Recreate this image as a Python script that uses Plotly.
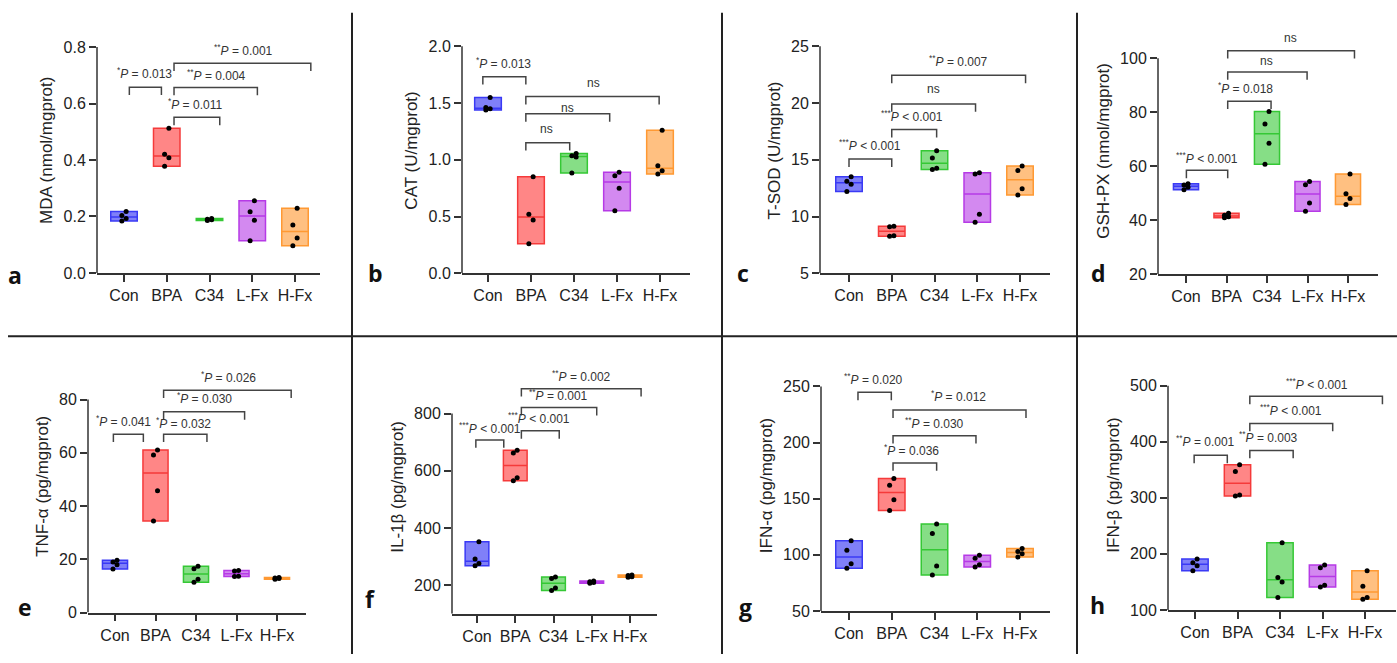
import numpy as np
import plotly.graph_objects as go

# ---------------- data ----------------
categories = ["Con", "BPA", "C34", "L-Fx", "H-Fx"]

mda = [[0.184, 0.193, 0.203, 0.218], [0.378, 0.408, 0.420, 0.512], [0.186, 0.188, 0.190, 0.193],
       [0.114, 0.187, 0.217, 0.256], [0.096, 0.124, 0.170, 0.229]]
cat_vals = [[1.44, 1.45, 1.46, 1.55], [0.26, 0.47, 0.52, 0.85], [0.884, 1.025, 1.035, 1.055],
            [0.55, 0.75, 0.86, 0.89], [0.875, 0.904, 0.948, 1.26]]
tsod = [[12.2, 12.85, 13.1, 13.5], [8.25, 8.3, 9.1, 9.15], [14.15, 14.25, 15.15, 15.8],
        [9.5, 10.2, 13.75, 13.85], [11.9, 12.45, 14.05, 14.45]]
gshpx = [[51.3, 52.2, 53.0, 53.5], [40.9, 41.3, 41.8, 42.6], [60.7, 68.5, 75.6, 80.3],
         [43.3, 46.4, 53.1, 54.3], [45.8, 48.0, 49.8, 57.1]]
tnfa = [[16.4, 18.0, 19.0, 19.6], [34.4, 45.7, 59.2, 61.0], [11.4, 12.5, 16.5, 17.4],
        [13.5, 13.6, 15.6, 15.8], [12.5, 12.8, 13.0, 13.2]]
il1b = [[268, 276, 292, 352], [565, 576, 662, 672], [182, 190, 224, 229],
        [207, 210, 212, 215], [228, 230, 234, 236]]
ifna = [[88, 92, 104, 112.6], [139.5, 149, 162, 168], [82, 90, 119, 127.5],
        [89, 91, 97, 99.5], [98, 101, 103, 105.5]]
ifnb = [[170, 179, 184, 191], [303, 305, 347, 359], [122, 150, 158, 220],
        [141, 144, 175, 180], [119, 122, 142, 170]]

y_titles = ["MDA (nmol/mgprot)", "CAT (U/mgprot)", "T-SOD (U/mgprot)", "GSH-PX (nmol/mgprot)",
            "TNF-α (pg/mgprot)", "IL-1β (pg/mgprot)", "IFN-α (pg/mgprot)", "IFN-β (pg/mgprot)"]
panel_letters = ["a", "b", "c", "d", "e", "f", "g", "h"]
y_ticks = [[0, 0.2, 0.4, 0.6, 0.8], [0, 0.5, 1.0, 1.5, 2.0], [5, 10, 15, 20, 25], [20, 40, 60, 80, 100],
           [0, 20, 40, 60, 80], [200, 400, 600, 800], [50, 100, 150, 200, 250], [100, 200, 300, 400, 500]]
y_fmt = ["{:.1f}", "{:.1f}", "{:g}", "{:g}", "{:g}", "{:g}", "{:g}", "{:g}"]
y_bottom = [0, 0, 5, 20, 0, 100, 50, 100]

# significance brackets: (start group pos, end group pos, bar level, stars, text, label x, label y)
brackets = [
    [(0.125, 0.875, 0.658, "*", "= 0.013", 0.49, 0.708), (1.17, 2.24, 0.551, "*", "= 0.011", 1.66, 0.600),
     (1.17, 3.12, 0.657, "**", "= 0.004", 2.17, 0.700), (1.17, 4.37, 0.743, "**", "= 0.001", 2.80, 0.790)],
    [(-0.12, 0.88, 1.733, "*", "= 0.013", 0.37, 1.855), (0.88, 1.90, 1.151, "", "ns", 1.36, 1.27),
     (0.88, 2.83, 1.406, "", "ns", 1.86, 1.455), (0.88, 3.98, 1.557, "", "ns", 2.45, 1.68)],
    [(0.0, 1.0, 15.06, "***", "< 0.001", 0.49, 16.3), (1.0, 2.05, 17.67, "***", "< 0.001", 1.47, 18.86),
     (1.0, 2.96, 19.93, "", "ns", 1.97, 21.2), (1.0, 4.13, 22.45, "**", "= 0.007", 2.56, 23.7)],
    [(0.01, 1.03, 58.5, "***", "< 0.001", 0.52, 63.1), (1.03, 2.10, 84.1, "*", "= 0.018", 1.46, 89.1),
     (1.03, 2.99, 94.9, "", "ns", 1.99, 99.1), (1.03, 4.16, 102.8, "", "ns", 2.59, 107.3)],
    [(-0.04, 0.70, 67.0, "*", "= 0.041", 0.21, 72.0), (1.20, 2.27, 67.0, "*", "= 0.032", 1.69, 71.3),
     (1.20, 3.20, 75.4, "*", "= 0.030", 2.20, 80.4), (1.20, 4.35, 83.5, "*", "= 0.026", 2.79, 88.4)],
    [(-0.03, 0.70, 708, "***", "< 0.001", 0.35, 749), (1.16, 2.15, 740, "***", "< 0.001", 1.61, 783),
     (1.16, 3.13, 821, "**", "= 0.001", 2.13, 864), (1.16, 4.29, 887, "**", "= 0.002", 2.74, 933)],
    [(0.21, 0.99, 244.7, "**", "= 0.020", 0.58, 256.7), (1.03, 2.05, 181.8, "*", "= 0.036", 1.46, 193.5),
     (1.03, 2.97, 206.1, "**", "= 0.030", 2.01, 217.2), (1.03, 4.14, 228.9, "*", "= 0.012", 2.55, 241.2)],
    [(-0.02, 0.76, 375.7, "**", "= 0.001", 0.25, 400.9), (1.29, 2.31, 384.5, "**", "= 0.003", 1.73, 409),
     (1.29, 3.24, 432.6, "***", "< 0.001", 2.26, 456), (1.29, 4.41, 481.2, "***", "< 0.001", 2.86, 502.9)],
]

all_data = [mda, cat_vals, tsod, gshpx, tnfa, il1b, ifna, ifnb]

# ---------------- layout geometry (pixels) ----------------
W, H = 1397, 663
# (axis left, axis right, first cat px, last cat px, bottom-tick px, top-tick px, row)
geom = [(97, 320, 124, 295, 276.7, 47.7, 0), (462, 690, 488, 660, 277, 47, 0),
        (820, 1050, 849, 1020, 277, 47, 0), (1158, 1378, 1186, 1348, 278, 59, 0),
        (88, 306, 115, 277, 621, 405, 1), (452, 657, 477, 630, 622.3, 419.3, 1),
        (821, 1050, 849, 1020, 619.3, 391.7, 1), (1168, 1396, 1195, 1365, 618.3, 391, 1)]
row_top_px = [28, 365]
letter_pos = [(15, 279), (375, 277), (743, 277), (1098, 277), (25, 615), (370, 607), (745, 615), (1097, 613)]

line_cols = ["#3a3af5", "#f53a3a", "#35c835", "#b63ae6", "#ff9933"]
fill_cols = ["rgba(60,60,245,0.65)", "rgba(255,60,60,0.62)", "rgba(53,200,53,0.6)",
             "rgba(182,58,230,0.6)", "rgba(255,153,51,0.62)"]
pt_offsets = [-0.05, 0.05, -0.05, 0.05]
AX = "#333333"
FONT = "Liberation Sans, Arial, sans-serif"

fig = go.Figure()
layout = dict(width=W, height=H, margin=dict(l=0, r=0, t=0, b=0),
              paper_bgcolor="white", plot_bgcolor="white", showlegend=False,
              font=dict(family=FONT, color="#222", size=12))
shapes = []
annotations = []

for n in range(8):
    sfx = "" if n == 0 else str(n + 1)
    L, R, c0, c4, pb, pt, row = geom[n]
    s = (c4 - c0) / 4
    xr = [-(c0 - L) / s, 4 + (R - c4) / s]
    ymin, ymaxtick = y_bottom[n], y_ticks[n][-1]
    k = (pb - pt) / (ymaxtick - ymin)
    top_px = row_top_px[row]
    ytop = ymin + (pb - top_px) / k

    layout["xaxis" + sfx] = dict(domain=[L / W, R / W], anchor="y" + sfx, range=xr,
                                 tickvals=list(range(5)), ticktext=categories,
                                 showline=True, linecolor=AX, linewidth=1.5,
                                 ticks="outside", ticklen=7, tickwidth=1.5, tickcolor=AX,
                                 showgrid=False, zeroline=False, fixedrange=True,
                                 tickfont=dict(size=16, color="#222"))
    layout["yaxis" + sfx] = dict(domain=[1 - pb / H, 1 - top_px / H], anchor="x" + sfx,
                                 range=[ymin, ytop], tickvals=y_ticks[n],
                                 ticktext=[y_fmt[n].format(v) for v in y_ticks[n]],
                                 showline=False, ticks="outside", ticklen=7, tickwidth=1.5,
                                 tickcolor=AX, showgrid=False, zeroline=False, fixedrange=True,
                                 tickfont=dict(size=16, color="#222"),
                                 title=dict(text=y_titles[n], font=dict(size=17, color="#222"),
                                            standoff=6))
    # y axis line from bottom tick to top tick
    shapes.append(dict(type="line", xref="x" + sfx + " domain", yref="y" + sfx,
                       x0=0, x1=0, y0=ymin, y1=ymaxtick, line=dict(color=AX, width=1.5)))

    for i, vals in enumerate(all_data[n]):
        v = sorted(vals)
        fig.add_trace(go.Box(x=[i], q1=[min(v)], median=[float(np.median(v))], q3=[max(v)],
                             lowerfence=[min(v)], upperfence=[max(v)], width=0.62,
                             fillcolor=fill_cols[i], line=dict(color=line_cols[i], width=1.5),
                             whiskerwidth=0, boxpoints=False, hoverinfo="skip",
                             xaxis="x" + sfx, yaxis="y" + sfx))
        fig.add_trace(go.Scatter(x=[i + o for o in pt_offsets], y=v, mode="markers",
                                 marker=dict(color="black", size=5), hoverinfo="skip",
                                 xaxis="x" + sfx, yaxis="y" + sfx))

    leg = 8 / k
    for (x0, x1, yb, stars, txt, lx, ly) in brackets[n]:
        shapes.append(dict(type="path", xref="x" + sfx, yref="y" + sfx,
                           path=f"M {x0},{yb - leg} L {x0},{yb} L {x1},{yb} L {x1},{yb - leg}",
                           line=dict(color="#444", width=1.5)))
        label = "ns" if txt == "ns" else f"<sup>{stars}</sup><i>P</i> {txt}"
        annotations.append(dict(x=lx, y=ly, xref="x" + sfx, yref="y" + sfx, text=label,
                                showarrow=False, xanchor="center", yanchor="middle",
                                font=dict(size=12, color="#333")))

    lxp, lyp = letter_pos[n]
    annotations.append(dict(x=lxp / W, y=1 - lyp / H, xref="paper", yref="paper",
                            text=f"<b>{panel_letters[n]}</b>", showarrow=False,
                            xanchor="center", yanchor="middle",
                            font=dict(size=23, color="#111", family="Open Sans, sans-serif")))

# panel separators
sep = dict(color="#222", width=2)
for xp in [352, 722, 1077]:
    shapes.append(dict(type="line", xref="paper", yref="paper", x0=xp / W, x1=xp / W,
                       y0=1 - 13 / H, y1=0, line=sep))
shapes.append(dict(type="line", xref="paper", yref="paper", x0=8 / W, x1=1,
                   y0=1 - 341 / H, y1=1 - 341 / H, line=sep))

layout["shapes"] = shapes
layout["annotations"] = annotations
fig.update_layout(**layout)

fig.write_html("out.html", config={"displayModeBar": False},
               post_script="document.body.style.margin='0';")
